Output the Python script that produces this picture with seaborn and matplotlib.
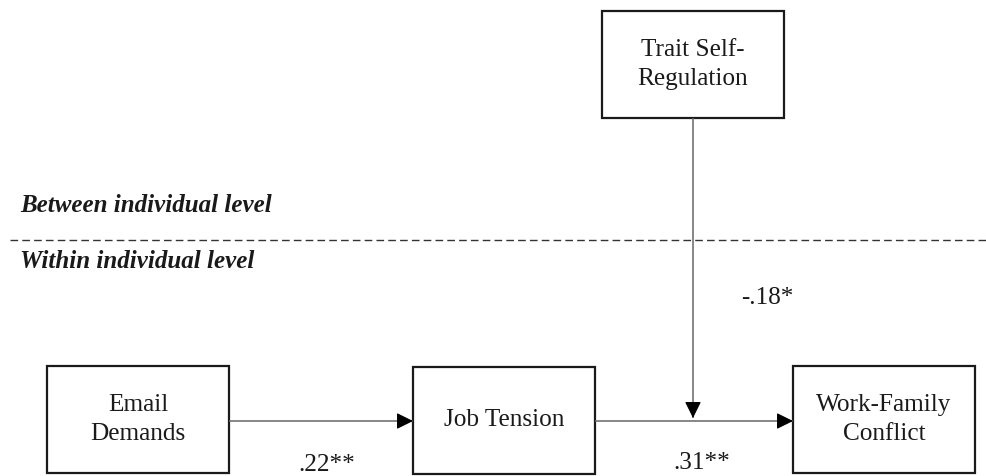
import matplotlib
matplotlib.use("Agg")
import matplotlib.pyplot as plt
import seaborn as sns
import pandas as pd
from matplotlib.patches import Rectangle

sns.set_theme(style="white")
plt.rcParams['font.family'] = ['Liberation Serif', 'DejaVu Serif']

# Diagram content

node_names = ["Email\nDemands", "Job Tension", "Work-Family\nConflict", "Trait Self-\nRegulation"]
path_labels = [".22**", ".31**", "-.18*"]
level_labels = ["Between individual level", "Within individual level"]

# Layout (pixel space, y downward)
node_x = [47, 413, 793, 602]
node_y = [366, 367, 366, 11]
node_w = 182
node_h = 107
line_y = 240
mid_y = 421

fig = plt.figure(figsize=(9.86, 4.76), dpi=100)
ax = fig.add_axes([0, 0, 1, 1])
ax.set_xlim(0, 986)
ax.set_ylim(476, 0)
ax.axis('off')

# Boxes
for name, x, y in zip(node_names, node_x, node_y):
    ax.add_patch(Rectangle((x, y), node_w, node_h, fill=False, ec='#1a1a1a', lw=1.6))
    ax.text(x + node_w / 2, y + node_h / 2, name, ha='center', va='center',
            fontsize=18.2, color='#1a1a1a', linespacing=1.42)

# Dashed level separator
sep = pd.DataFrame({'x': [10, 986], 'y': [line_y, line_y]})
sns.lineplot(data=sep, x='x', y='y', ax=ax, color='#333333', lw=1.0,
             linestyle=(0, (5.5, 3)))

ax.text(20, 206, level_labels[0], fontsize=18, fontweight='bold', style='italic',
        ha='left', va='center', color='#1a1a1a')
ax.text(20, 262, level_labels[1], fontsize=18, fontweight='bold', style='italic',
        ha='left', va='center', color='#1a1a1a')


def arrow(x0, y0, x1, y1):
    # gray shaft, black head
    ax.plot([x0, x1], [y0, y1], color='#666666', lw=1.1, solid_capstyle='butt')
    dx = x1 - x0
    dy = y1 - y0
    n = (dx ** 2 + dy ** 2) ** 0.5
    ax.annotate('', xy=(x1, y1), xytext=(x1 - dx / n * 12, y1 - dy / n * 12),
                arrowprops=dict(arrowstyle='-|>,head_length=0.85,head_width=0.42',
                                color='black', lw=0.8, shrinkA=0, shrinkB=0))


arrow(node_x[0] + node_w, mid_y, node_x[1], mid_y)
arrow(node_x[1] + node_w, mid_y, node_x[2], mid_y)
mod_x = node_x[3] + node_w / 2
arrow(mod_x, node_y[3] + node_h, mod_x, mid_y - 3)

ax.text(327, 465, path_labels[0], fontsize=18.2, ha='center', va='center', color='#1a1a1a')
ax.text(702, 463, path_labels[1], fontsize=18.2, ha='center', va='center', color='#1a1a1a')
ax.text(767, 298, path_labels[2], fontsize=18.2, ha='center', va='center', color='#1a1a1a')

fig.savefig('out.png', dpi=100, facecolor='white')
